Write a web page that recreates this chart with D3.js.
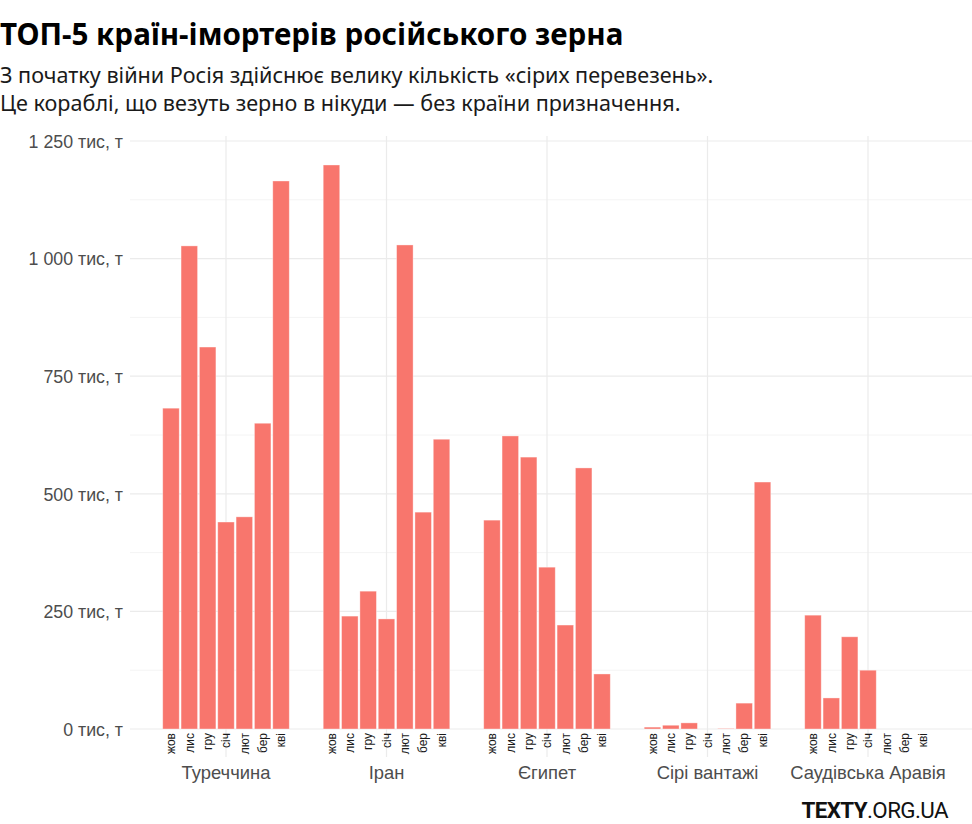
<!DOCTYPE html>
<html>
<head>
<meta charset="utf-8">
<script src="https://cdn.jsdelivr.net/npm/d3@7"></script>
<style>
  html, body { margin: 0; padding: 0; background: #fff; }
  svg { display: block; }
</style>
</head>
<body>
<svg id="chart" width="972" height="824"></svg>
<script>
const countries = ["Туреччина", "Іран", "Єгипет", "Сірі вантажі", "Саудівська Аравія"];
const months = ["жов", "лис", "гру", "січ", "лют", "бер", "кві"];
const turkey = [682, 1027, 812, 440, 451, 650, 1165];
const iran = [1199, 240, 293, 234, 1029, 461, 616];
const egypt = [444, 623, 578, 344, 221, 555, 117];
const grey = [4, 8, 13, 0, 1, 55, 525];
const saudi = [242, 66, 196, 125, 0, 0, 0];
const yTicks = [0, 250, 500, 750, 1000, 1250];
const yMinor = [125, 375, 625, 875, 1125];
const title = "ТОП-5 країн-імортерів російського зерна";
const subtitle = ["З початку війни Росія здійснює велику кількість «сірих перевезень».",
                  "Це кораблі, що везуть зерно в нікуди — без країни призначення."];

const seriesValues = [turkey, iran, egypt, grey, saudi];
const data = [];
countries.forEach((c, i) => months.forEach((m, j) => data.push({country: c, month: m, value: seriesValues[i][j]})));

const svg = d3.select("#chart");
const fill = "#F8766D";

const y = d3.scaleLinear().domain([0, 1250]).range([729, 141]);
const fx = d3.scalePoint().domain(countries).range([226, 868]);
const xIn = d3.scaleBand().domain(months).range([-64.2, 64.2]).paddingInner(0.1).paddingOuter(0.05);

const gridL = 130, gridR = 972;
svg.append("g").selectAll("line").data(yMinor).join("line")
  .attr("x1", gridL).attr("x2", gridR)
  .attr("y1", d => y(d)).attr("y2", d => y(d))
  .attr("stroke", "#f4f4f4").attr("stroke-width", 1);
svg.append("g").selectAll("line").data(yTicks).join("line")
  .attr("x1", gridL).attr("x2", gridR)
  .attr("y1", d => y(d)).attr("y2", d => y(d))
  .attr("stroke", "#ebebeb").attr("stroke-width", 1.2);
svg.append("g").selectAll("line").data(countries).join("line")
  .attr("x1", d => fx(d)).attr("x2", d => fx(d))
  .attr("y1", 136).attr("y2", 757)
  .attr("stroke", "#ebebeb").attr("stroke-width", 1.2);

const yAxis = d3.axisLeft(y).tickValues(yTicks).tickSize(0).tickPadding(0)
  .tickFormat(d => d3.format(",")(d).replace(/,/g, " ") + " тис, т");
const yg = svg.append("g").attr("transform", "translate(123,0)").call(yAxis);
yg.select(".domain").remove();
yg.selectAll("text")
  .attr("font-family", "'Liberation Sans', Arial, sans-serif")
  .attr("font-size", 17.8).attr("fill", "#4d4d4d").attr("dy", "0.35em");

svg.append("g").selectAll("rect").data(data).join("rect")
  .attr("x", d => fx(d.country) + xIn(d.month))
  .attr("width", xIn.bandwidth())
  .attr("y", d => y(d.value))
  .attr("height", d => y(0) - y(d.value))
  .attr("fill", fill)
  .attr("stroke", "rgba(255,255,255,0.45)")
  .attr("stroke-width", 0.8);

countries.forEach(c => {
  const g = svg.append("g").attr("transform", `translate(${fx(c)},733)`);
  const ax = d3.axisBottom(xIn).tickSize(0).tickPadding(0);
  g.call(ax);
  g.select(".domain").remove();
  g.selectAll("text")
    .attr("font-family", "'Liberation Sans', Arial, sans-serif")
    .attr("font-size", 12).attr("fill", "#1a1a1a")
    .attr("transform", "rotate(-90)")
    .attr("text-anchor", "end")
    .attr("x", 0).attr("y", 0).attr("dy", "0.35em");
});

svg.append("g").selectAll("text").data(countries).join("text")
  .attr("x", d => fx(d)).attr("y", 779)
  .attr("text-anchor", "middle")
  .attr("font-family", "'Liberation Sans', Arial, sans-serif")
  .attr("font-size", 18.4).attr("fill", "#4d4d4d")
  .text(d => d);

svg.append("text").attr("x", 0).attr("y", 45)
  .attr("font-family", "'Noto Sans', 'Open Sans', sans-serif")
  .attr("font-weight", 700).attr("font-size", 29.6).attr("fill", "#000")
  .text(title);
svg.append("g").selectAll("text").data(subtitle).join("text")
  .attr("x", 0).attr("y", (d, i) => 83 + i * 28)
  .attr("font-family", "'Noto Sans', 'Open Sans', sans-serif")
  .attr("font-size", 21.6).attr("fill", "#1a1a1a")
  .text(d => d);

const logo = svg.append("text").attr("x", 948).attr("y", 818)
  .attr("text-anchor", "end")
  .attr("font-family", "Roboto, 'Liberation Sans', sans-serif")
  .attr("font-size", 22.4).attr("fill", "#111").attr("letter-spacing", -0.6);
logo.append("tspan").attr("font-weight", 700).text("TEXTY");
logo.append("tspan").attr("font-weight", 400).text(".ORG.UA");
</script>
</body>
</html>
